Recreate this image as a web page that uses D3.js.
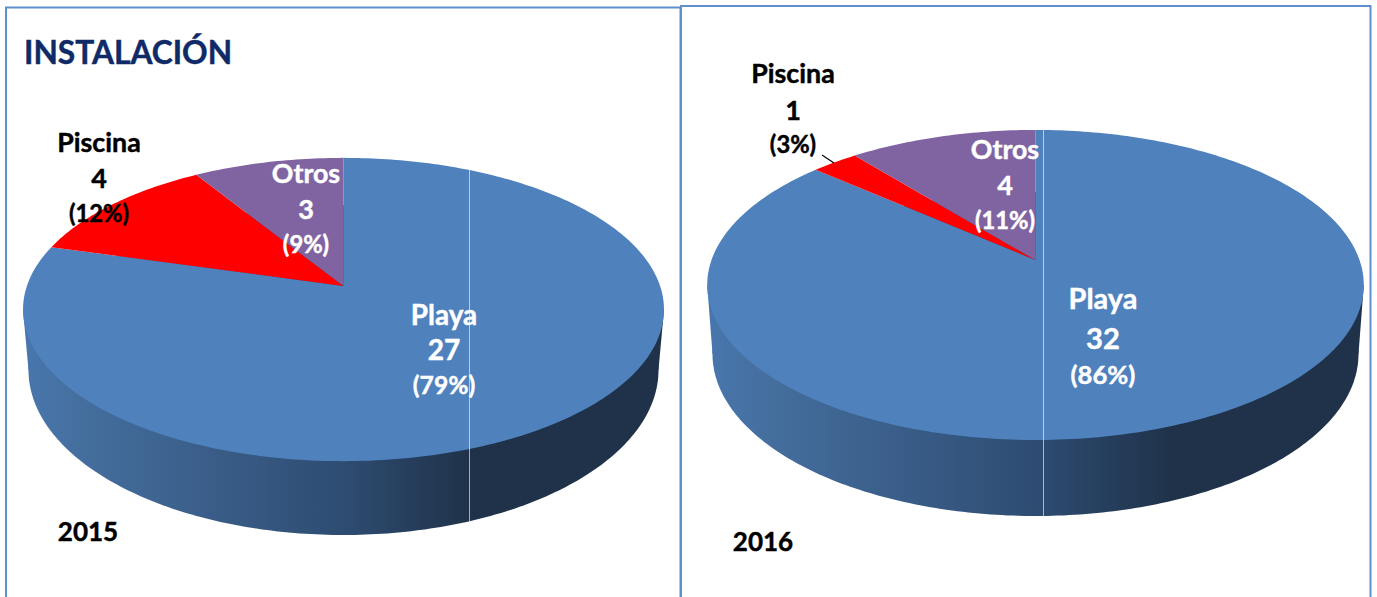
<!DOCTYPE html>
<html lang="es">
<head>
<meta charset="utf-8">
<script src="https://cdn.jsdelivr.net/npm/d3@7/dist/d3.min.js"></script>
<style>
html,body{margin:0;padding:0;background:#fff;overflow:hidden}
svg{display:block}
text{font-family:Lato,"Open Sans",sans-serif;font-weight:700;text-anchor:middle;stroke-width:.45px;paint-order:stroke}
</style>
</head>
<body>
<svg id="c" width="1377" height="597"></svg>
<script>
const chartTitle = "INSTALACIÓN";
const categories = ["Playa", "Piscina", "Otros"];
const years = ["2015", "2016"];
const values2015 = [27, 4, 3];
const values2016 = [32, 1, 4];

const sliceColors = d3.scaleOrdinal().domain(categories).range(["#4f81bd", "#ff0000", "#8064a2"]);
const labelColors = d3.scaleOrdinal().domain(categories).range(["#ffffff", "#000000", "#ffffff"]);

const svg = d3.select("#c");
const defs = svg.append("defs");
const pct = d3.format(".0%");
const pie = d3.pie().sort(null).value(d => d.value);
const linePath = d3.line();
const lineScale = [1.07, 1.08, 0.95];

const layouts = [
  { year: years[0], values: values2015, cx: 343.5, apexY: 286, A: 316.6, B: 148, k: 0.155,
    lower: { rx: 315, cy: 370, ry: 165 }, rimY: 310, ruleX: 469.5, darkX: 470,
    yearPos: [88, 541],
    labels: { Playa: [444, 325, 360, 394, 26], Piscina: [99, 152, 188, 222, 25], Otros: [306, 183, 219, 253, 25] } },
  { year: years[1], values: values2016, cx: 1035.5, apexY: 260, A: 324, B: 151, k: 0.161,
    lower: { rx: 323, cy: 354, ry: 162 }, rimY: 285, ruleX: 1043.5, darkX: 1173,
    yearPos: [763, 551],
    labels: { Playa: [1103, 309, 349, 384, 27], Piscina: [793, 83, 120, 153, 25], Otros: [1005, 159, 195, 229, 25] } }
];

function drawPie(cfg, i) {
  const g = svg.append("g");
  // perspective projection of the unit disc, angle measured clockwise from top
  const project = a => {
    const u = Math.sin(a), v = Math.cos(a), d = 1 + cfg.k * v;
    return [cfg.cx + cfg.A * u / d, cfg.apexY - cfg.B * v / d];
  };
  const rimHalf = cfg.A / Math.sqrt(1 - cfg.k * cfg.k);
  const lowerPt = a => [cfg.cx + cfg.lower.rx * Math.sin(a), cfg.lower.cy - cfg.lower.ry * Math.cos(a)];

  const gradId = "wall" + i;
  const grad = defs.append("linearGradient").attr("id", gradId)
    .attr("gradientUnits", "userSpaceOnUse")
    .attr("x1", cfg.cx - rimHalf).attr("x2", cfg.darkX).attr("y1", 0).attr("y2", 0);
  grad.append("stop").attr("offset", 0).attr("stop-color", "#4876ad");
  grad.append("stop").attr("offset", 0.12).attr("stop-color", "#456f9f");
  grad.append("stop").attr("offset", rimHalf / (cfg.darkX - (cfg.cx - rimHalf)))
    .attr("stop-color", "#2e4c72");
  grad.append("stop").attr("offset", 1).attr("stop-color", "#1f3249");

  // side wall: lower rim plus tangents up to the top rim
  const lowerAngles = d3.range(0, 2 * Math.PI, Math.PI / 180);
  const wall = g.append("g").attr("fill", `url(#${gradId})`);
  wall.append("path").attr("d", linePath(lowerAngles.map(lowerPt)) + "Z");
  wall.append("path").attr("d", linePath([
    [cfg.cx - rimHalf, cfg.rimY],
    [cfg.cx + rimHalf, cfg.rimY],
    [cfg.cx + cfg.lower.rx, cfg.lower.cy],
    [cfg.cx - cfg.lower.rx, cfg.lower.cy]
  ]) + "Z");

  // top face
  const arcs = pie(categories.map((name, j) => ({ name, value: cfg.values[j] })));
  const total = d3.sum(cfg.values);
  g.append("g").selectAll("path").data(arcs).join("path")
    .attr("fill", d => sliceColors(d.data.name))
    .attr("d", d => {
      const n = Math.max(2, Math.ceil((d.endAngle - d.startAngle) / (Math.PI / 180)));
      const pts = d3.range(n + 1).map(t => project(d.startAngle + (d.endAngle - d.startAngle) * t / n));
      return linePath([[cfg.cx, cfg.apexY], ...pts]) + "Z";
    });

  // thin light vertical seam
  const xu = cfg.ruleX - cfg.cx;
  const topY = () => {
    let best = 0, bestD = Infinity;
    d3.range(-0.8, 0.8, 0.0005).forEach(a => {
      const p = project(a);
      if (Math.abs(p[0] - cfg.ruleX) < bestD) { bestD = Math.abs(p[0] - cfg.ruleX); best = p[1]; }
    });
    return best;
  };
  const botY = cfg.lower.cy + cfg.lower.ry * Math.sqrt(1 - (xu / cfg.lower.rx) ** 2);
  g.append("line").attr("x1", cfg.ruleX).attr("x2", cfg.ruleX)
    .attr("y1", topY()).attr("y2", botY)
    .attr("stroke", "#ffffff").attr("stroke-opacity", 0.6).attr("stroke-width", 1);

  // labels
  arcs.forEach(d => {
    const [x, y1, y2, y3, size] = cfg.labels[d.data.name];
    const lines = [d.data.name, d.data.value, `(${pct(d.data.value / total)})`];
    [y1, y2, y3].forEach((y, j) => {
      g.append("text").attr("x", x).attr("y", y)
        .attr("font-size", size * lineScale[j])
        .attr("fill", labelColors(d.data.name))
        .attr("stroke", labelColors(d.data.name))
        .text(lines[j]);
    });
  });

  g.append("text").attr("x", cfg.yearPos[0]).attr("y", cfg.yearPos[1])
    .attr("font-size", 26).attr("fill", "#000").attr("stroke", "#000").text(cfg.year);
}

// frames
const frameColor = "#5f8fcc";
svg.append("path").attr("fill", "none").attr("stroke", frameColor).attr("stroke-width", 2)
  .attr("d", "M6,597V7.5H680.5V597");
svg.append("path").attr("fill", "none").attr("stroke", frameColor).attr("stroke-width", 2)
  .attr("d", "M681,597V6H1370.5V597");

layouts.forEach(drawPie);

// leader for the small Piscina slice
svg.append("line").attr("x1", 822).attr("y1", 155).attr("x2", 834).attr("y2", 163)
  .attr("stroke", "#000").attr("stroke-width", 1.2);

svg.append("text").attr("x", 24).attr("y", 64).style("text-anchor", "start")
  .attr("font-size", 31.7).attr("fill", "#0f2a66").attr("stroke", "#0f2a66").text(chartTitle);
</script>
</body>
</html>
